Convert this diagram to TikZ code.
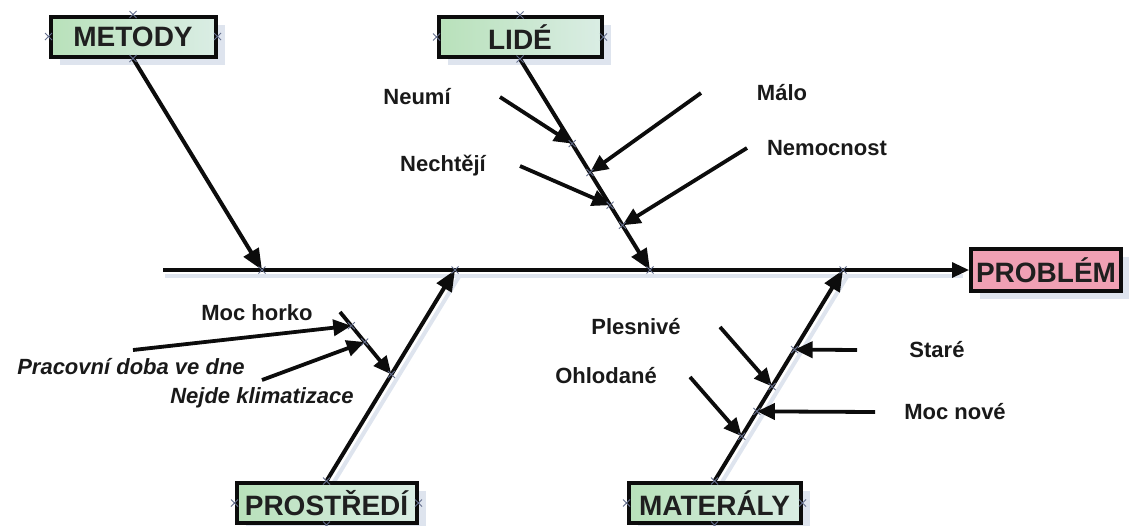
\documentclass[tikz,border=0pt]{standalone}
\usepackage{fontspec}
\setmainfont{Liberation Sans}
\usetikzlibrary{arrows.meta,calc,shadows}

\definecolor{boxgreenA}{RGB}{184,225,186}
\definecolor{boxgreenB}{RGB}{218,237,228}
\definecolor{problempink}{RGB}{240,160,180}
\definecolor{shadowtone}{RGB}{222,228,238}
\definecolor{handletone}{RGB}{100,110,140}
\definecolor{inktone}{RGB}{12,12,12}

\pgfdeclarelayer{back}
\pgfsetlayers{back,main}

\begin{document}
\begin{tikzpicture}[x=1pt,y=-1pt,
  boxbase/.style={draw=inktone, line width=4pt, minimum height=40pt, inner sep=0pt,
    font=\fontsize{28}{28}\selectfont\bfseries, text=black!88,
    drop shadow={shadow xshift=9pt, shadow yshift=-8pt, fill=shadowtone, opacity=1}},
  catbox/.style={boxbase, left color=boxgreenA, right color=boxgreenB},
  goalbox/.style={boxbase, fill=problempink, minimum height=42pt},
  lab/.style={inner sep=0pt, font=\fontsize{22}{22}\selectfont\bfseries, text=black!90},
  labit/.style={lab, font=\fontsize{22}{22}\selectfont\bfseries\itshape},
  spine/.style={draw=inktone, line width=3.2pt, -{Triangle[length=17pt,width=15pt]}},
  bone/.style={draw=inktone, line width=4pt, -{Triangle[length=21pt,width=17pt]}},
  twig/.style={draw=inktone, line width=3.8pt, -{Triangle[length=18pt,width=16pt]}},
  shade/.style={draw=shadowtone, line width=4pt},
  handlemark/.style={draw=handletone, line width=0.9pt}
]
\useasboundingbox (0,0) rectangle (1129,525);

% category boxes and the effect box
\node[catbox, minimum width=165pt] (metody) at (133,36.5) {METODY};
\node[catbox, minimum width=163pt] (lide) at (520,37) {LIDÉ};
\node[catbox, minimum width=180pt] (prostredi) at (326.5,503) {PROSTŘEDÍ};
\node[catbox, minimum width=172pt] (materaly) at (714.5,503) {MATERÁLY};
\node[goalbox, minimum width=150pt] (problem) at (1046,270) {PROBLÉM};

% joints on the spine
\coordinate (spineS) at (163,270);
\coordinate (jM) at (262,270);
\coordinate (jP) at (455,270);
\coordinate (jL) at (650,270);
\coordinate (jT) at (843,270);

% points on the LIDÉ bone and the starts of its causes
\coordinate (lNeu) at ($(lide.south)!0.401!(jL)$);
\coordinate (lMal) at ($(lide.south)!0.538!(jL)$);
\coordinate (lNec) at ($(lide.south)!0.693!(jL)$);
\coordinate (lNem) at ($(lide.south)!0.788!(jL)$);
\coordinate (sNeu) at (500,97);
\coordinate (sMal) at (701,93);
\coordinate (sNec) at (520,166);
\coordinate (sNem) at (747,148);

% PROSTŘEDÍ bone: a sub-bone with two causes on it
\coordinate (pTip) at ($(prostredi.north)!0.505!(jP)$);
\coordinate (pSub) at (340,312);
\coordinate (pA) at ($(pSub)!0.22!(pTip)$);
\coordinate (pB) at ($(pSub)!0.48!(pTip)$);
\coordinate (sHor) at (133,350);
\coordinate (sNej) at (262,380);

% points on the MATERÁLY bone and the starts of its causes
\coordinate (mSta) at ($(materaly.north)!0.623!(jT)$);
\coordinate (mNov) at ($(materaly.north)!0.330!(jT)$);
\coordinate (mPle) at ($(materaly.north)!0.448!(jT)$);
\coordinate (mOhl) at ($(materaly.north)!0.212!(jT)$);
\coordinate (sSta) at (857,350);
\coordinate (sNov) at (875,412);
\coordinate (sPle) at (720,327);
\coordinate (sOhl) at (690,377);

% soft shadows behind the spine and the lower bones
\begin{pgfonlayer}{back}
  \draw[shade] ([shift={(2,6)}]spineS) -- ([shift={(-6,6)}]problem.west);
  \draw[shade] ([shift={(5,5)}]prostredi.north) -- ([shift={(5,5)}]jP);
  \draw[shade] ([shift={(5,5)}]materaly.north) -- ([shift={(5,5)}]jT);
\end{pgfonlayer}

% spine and main bones
\draw[spine] (spineS) -- (problem.west);
\draw[bone] (metody.south) -- (jM);
\draw[bone] (lide.south) -- (jL);
\draw[bone] (prostredi.north) -- (jP);
\draw[bone] (materaly.north) -- (jT);

% causes
\draw[twig] (sNeu) -- (lNeu);
\draw[twig] (sMal) -- (lMal);
\draw[twig] (sNec) -- (lNec);
\draw[twig] (sNem) -- (lNem);
\draw[twig] (pSub) -- (pTip);
\draw[twig] (sHor) -- (pA);
\draw[twig] (sNej) -- (pB);
\draw[twig] (sSta) -- (mSta);
\draw[twig] (sNov) -- (mNov);
\draw[twig] (sPle) -- (mPle);
\draw[twig] (sOhl) -- (mOhl);

% labels
\node[lab] (tNeu) at (417,97) {Neumí};
\node[lab] (tNec) at (443,166) {Nechtějí};
\node[lab] (tMal) at (782,93) {Málo};
\node[lab] (tNem) at (827,148) {Nemocnost};
\node[lab] (tHor) at (257,313) {Moc horko};
\node[labit] (tPra) at (131,367) {Pracovní doba ve dne};
\node[labit] (tNej) at (262,398) {Nejde klimatizace};
\node[lab] (tPle) at (636,327) {Plesnivé};
\node[lab] (tOhl) at (606,376) {Ohlodané};
\node[lab] (tSta) at (937,350) {Staré};
\node[lab] (tNov) at (955,412) {Moc nové};

% small connection handles
\foreach \c in {metody.north,metody.south,metody.west,metody.east,
                lide.north,lide.south,lide.west,lide.east,
                prostredi.north,prostredi.south,prostredi.west,prostredi.east,
                materaly.north,materaly.south,materaly.west,materaly.east,
                jM,jP,jL,jT,lNeu,lMal,lNec,lNem,pA,pB,pTip,mSta,mNov,mPle,mOhl}
  \draw[handlemark] ($(\c)+(-3.5,-3.5)$) -- ($(\c)+(3.5,3.5)$)
                    ($(\c)+(-3.5,3.5)$) -- ($(\c)+(3.5,-3.5)$);
\end{tikzpicture}
\end{document}
